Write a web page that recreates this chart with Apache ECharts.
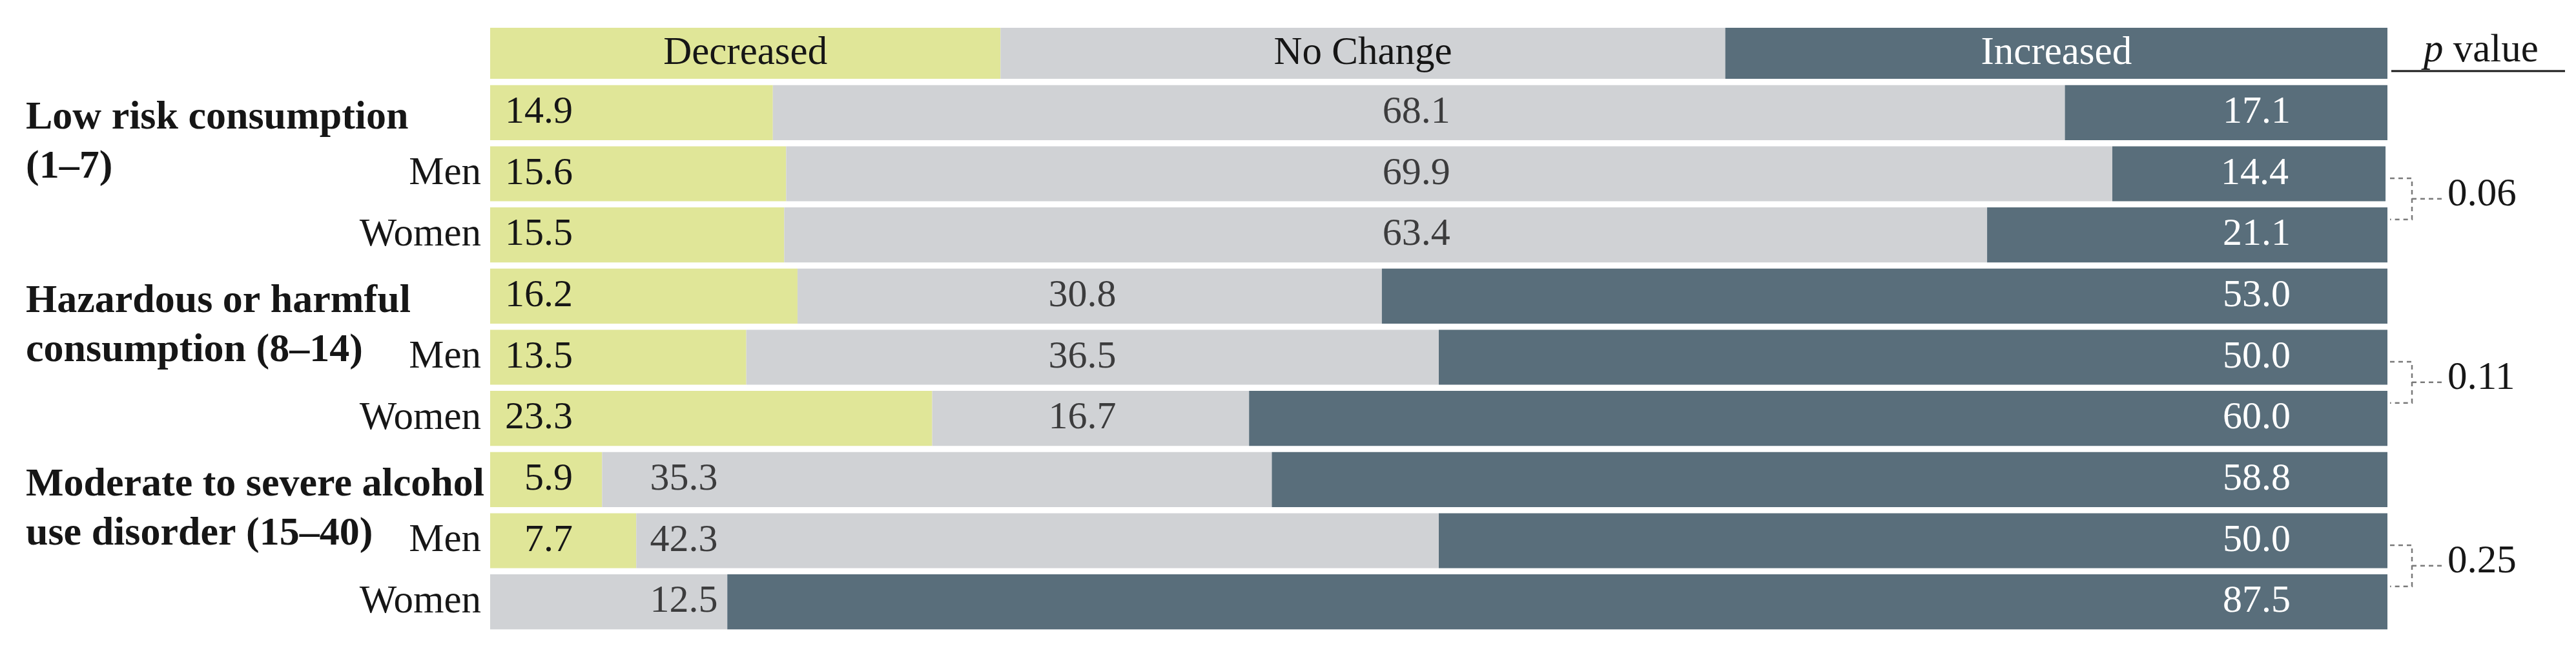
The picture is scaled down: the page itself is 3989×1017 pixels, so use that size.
<!DOCTYPE html>
<html><head><meta charset="utf-8">
<script src="https://cdn.jsdelivr.net/npm/echarts@6/dist/echarts.min.js"></script>
<style>html,body{margin:0;padding:0;background:#fff}#c{width:3989px;height:1017px}</style>
</head><body><div id="c"></div>
<script>
const seriesNames = ['Decreased', 'No Change', 'Increased'];
const headerShares = [26.9, 38.2, 34.9];
const groupNames = [['Low risk consumption', '(1–7)'], ['Hazardous or harmful', 'consumption (8–14)'], ['Moderate to severe alcohol', 'use disorder (15–40)']];
const rowLabels = ['', 'Men', 'Women', '', 'Men', 'Women', '', 'Men', 'Women'];
const decreased = [14.9, 15.6, 15.5, 16.2, 13.5, 23.3, 5.9, 7.7, 0];
const noChange = [68.1, 69.9, 63.4, 30.8, 36.5, 16.7, 35.3, 42.3, 12.5];
const increased = [17.1, 14.4, 21.1, 53.0, 50.0, 60.0, 58.8, 50.0, 87.5];
const pValues = ['0.06', '0.11', '0.25'];

const FONT = '"Liberation Serif", "Times New Roman", serif';
const COLORS = ['#e0e698', '#d0d2d5', '#596e7b'];
const TEXT = '#161616';
// where the "No Change" numbers of each group end (axis units)
const noChangeLabelEnd = [50.6, 33.0, 12.0];

const chart = echarts.init(document.getElementById('c'), null, {renderer: 'canvas'});
const rowIdx = rowLabels.map((_, i) => String(i));
const fmt = v => (v > 0 ? v.toFixed(1) : '');

const headerSeries = seriesNames.map((name, k) => ({
  type: 'bar', name: name + ' header', stack: 'h', xAxisIndex: 0, yAxisIndex: 0,
  barWidth: '100%', silent: true,
  itemStyle: {color: COLORS[k]},
  data: [headerShares[k]],
  label: {show: true, position: 'inside', formatter: name, fontFamily: FONT, fontSize: 61,
          color: k === 2 ? '#ffffff' : TEXT}
}));

const mainSeries = [
  {type: 'bar', name: seriesNames[0], stack: 'm', xAxisIndex: 1, yAxisIndex: 1, barCategoryGap: '10%',
   itemStyle: {color: COLORS[0]}, data: decreased, silent: true,
   label: {show: true, position: [128, '50%'], align: 'right', verticalAlign: 'middle',
           formatter: p => fmt(p.value), fontFamily: FONT, fontSize: 60, color: TEXT}},
  {type: 'bar', name: seriesNames[1], stack: 'm', xAxisIndex: 1, yAxisIndex: 1, barCategoryGap: '10%',
   itemStyle: {color: COLORS[1]}, data: noChange, silent: true},
  {type: 'bar', name: seriesNames[2], stack: 'm', xAxisIndex: 1, yAxisIndex: 1, barCategoryGap: '10%',
   itemStyle: {color: COLORS[2]}, data: increased, silent: true,
   label: {show: true, position: 'insideRight', distance: 150,
           formatter: p => fmt(p.value), fontFamily: FONT, fontSize: 60, color: '#ffffff'}},
  {type: 'scatter', xAxisIndex: 1, yAxisIndex: 1, symbolSize: 0, silent: true, z: 10,
   data: noChange.map((v, i) => ({value: [noChangeLabelEnd[Math.floor(i / 3)], i], nc: v})),
   label: {show: true, position: 'left', distance: 0,
           formatter: p => fmt(p.data.nc), fontFamily: FONT, fontSize: 60, color: TEXT}}
];

chart.setOption({
  animation: false,
  backgroundColor: '#ffffff',
  grid: [
    {left: 759, right: 292, top: 43, height: 79},
    {left: 759, right: 292, top: 127, height: 852}
  ],
  xAxis: [
    {gridIndex: 0, type: 'value', min: 0, max: 100, show: false},
    {gridIndex: 1, type: 'value', min: 0, max: 100, show: false}
  ],
  yAxis: [
    {gridIndex: 0, type: 'category', data: ['h'], show: false},
    {gridIndex: 1, type: 'category', data: rowIdx, inverse: true,
     axisLine: {show: false}, axisTick: {show: false}, splitLine: {show: false},
     axisLabel: {margin: 14, fontFamily: FONT, fontSize: 61, color: TEXT,
                 formatter: (v, i) => rowLabels[i]}}
  ],
  series: headerSeries.concat(mainSeries)
});

// annotations placed from the axes' own scales
const px = (x, row) => chart.convertToPixel({gridIndex: 1}, [x, row]);
const R = px(100, 0)[0];
const graphics = [];
groupNames.forEach((lines, g) => {
  const c = px(0, g * 3)[1];
  graphics.push({type: 'text', x: 40, y: c + 9 - 38, silent: true,
    style: {text: lines.join('\n'), fontFamily: FONT, fontSize: 62, fontWeight: 'bold',
            lineHeight: 76, fill: TEXT, verticalAlign: 'top', align: 'left'}});
  const yTop = px(0, g * 3 + 1)[1] + 7;
  const yBot = px(0, g * 3 + 2)[1] - 24;
  const mid = (yTop + yBot) / 2;
  const dash = {stroke: '#7a7a7a', lineWidth: 2.5, lineDash: [7, 6], fill: null};
  graphics.push({type: 'polyline', silent: true,
    shape: {points: [[R + 4, yTop], [R + 38, yTop], [R + 38, yBot], [R + 4, yBot]]}, style: dash});
  graphics.push({type: 'line', silent: true,
    shape: {x1: R + 38, y1: mid, x2: R + 90, y2: mid}, style: dash});
  graphics.push({type: 'text', x: R + 93, y: mid - 6, silent: true,
    style: {text: pValues[g], fontFamily: FONT, fontSize: 61, fill: TEXT,
            verticalAlign: 'middle', align: 'left'}});
});
graphics.push({type: 'text', x: R + 56, y: 79, silent: true,
  style: {text: '{i|p}{n| value}', fontFamily: FONT, fontSize: 61, fill: TEXT, verticalAlign: 'middle',
          align: 'left', rich: {
            i: {fontStyle: 'italic', fontFamily: FONT, fontSize: 61, fill: TEXT},
            n: {fontFamily: FONT, fontSize: 61, fill: TEXT}}}});
graphics.push({type: 'line', silent: true, shape: {x1: R + 6, y1: 110, x2: R + 275, y2: 110},
  style: {stroke: '#1a1a1a', lineWidth: 3}});
chart.setOption({graphic: graphics});
</script>
</body></html>
